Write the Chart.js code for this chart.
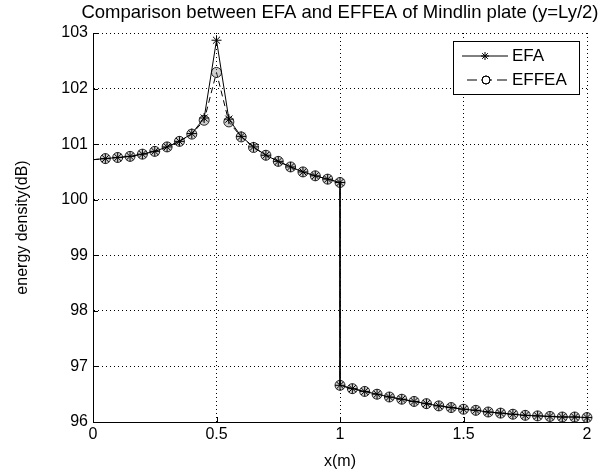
<!DOCTYPE html>
<html>
<head>
<meta charset="utf-8">
<script src="https://cdn.jsdelivr.net/npm/chart.js@4/dist/chart.umd.min.js"></script>
<style>
  html, body { margin: 0; padding: 0; background: #fff; }
  #wrap { width: 600px; height: 472px; }
</style>
</head>
<body>
<div id="wrap"><canvas id="chart" width="600" height="472"></canvas></div>
<script>
// x positions (m)
const xLeft = [0, 0.05, 0.1, 0.15, 0.2, 0.25, 0.3, 0.35, 0.4, 0.45, 0.5, 0.55, 0.6, 0.65, 0.7, 0.75, 0.8, 0.85, 0.9, 0.95, 1.0];
const xRight = [1.0, 1.05, 1.1, 1.15, 1.2, 1.25, 1.3, 1.35, 1.4, 1.45, 1.5, 1.55, 1.6, 1.65, 1.7, 1.75, 1.8, 1.85, 1.9, 1.95, 2.0];

// energy density (dB)
const efaLeft = [100.72, 100.74, 100.76, 100.78, 100.82, 100.87, 100.95, 101.05, 101.19, 101.47, 102.87, 101.45, 101.14, 100.95, 100.80, 100.69, 100.59, 100.50, 100.43, 100.37, 100.31];
const effeaLeft = [100.72, 100.74, 100.76, 100.78, 100.82, 100.87, 100.95, 101.05, 101.18, 101.43, 102.29, 101.40, 101.13, 100.94, 100.80, 100.69, 100.59, 100.50, 100.43, 100.37, 100.31];
const efaRight = [96.66, 96.60, 96.55, 96.50, 96.45, 96.41, 96.37, 96.33, 96.29, 96.26, 96.23, 96.21, 96.18, 96.16, 96.14, 96.12, 96.11, 96.10, 96.09, 96.09, 96.08];
const effeaRight = [96.66, 96.60, 96.55, 96.50, 96.45, 96.41, 96.37, 96.33, 96.29, 96.26, 96.23, 96.21, 96.18, 96.16, 96.14, 96.12, 96.11, 96.10, 96.09, 96.09, 96.08];

const seriesNames = ['EFA', 'EFFEA'];
const titleText = 'Comparison between EFA and EFFEA of Mindlin plate (y=Ly/2)';
const xTitle = 'x(m)';
const yTitle = 'energy density(dB)';

const FONT = '"Liberation Sans", Arial, Helvetica, sans-serif';

function toPoints(xs, ys) {
    return xs.map((x, i) => ({x: x, y: ys[i]}));
}

const efaData = toPoints(xLeft, efaLeft).concat(toPoints(xRight, efaRight));
const effeaData = toPoints(xLeft, effeaLeft).concat(toPoints(xRight, effeaRight));

// hide the marker on the first sample (x = 0)
const radiusFn = r => c => (c.parsed && c.parsed.x === 0 ? 0 : r);

const matlabBits = {
    id: 'matlabBits',
    afterDraw(chart) {
        const ctx = chart.ctx;
        const area = chart.chartArea;
        const xs = chart.scales.x, ys = chart.scales.y;
        ctx.save();
        // inward tick marks
        ctx.strokeStyle = '#000';
        ctx.lineWidth = 1;
        ctx.beginPath();
        ys.ticks.forEach(t => {
            const py = Math.round(ys.getPixelForValue(t.value)) + 0.5;
            ctx.moveTo(area.left, py);
            ctx.lineTo(area.left + 5, py);
        });
        xs.ticks.forEach(t => {
            const px = Math.round(xs.getPixelForValue(t.value)) + 0.5;
            ctx.moveTo(px, area.bottom);
            ctx.lineTo(px, area.bottom - 5);
        });
        ctx.stroke();

        // title
        ctx.fillStyle = '#000';
        ctx.font = '18.5px ' + FONT;
        ctx.textAlign = 'center';
        ctx.textBaseline = 'middle';
        ctx.fillText(titleText, (area.left + area.right) / 2, 13);

        // legend box
        const bx = 453, by = 41, bw = 126, bh = 53;
        ctx.fillStyle = '#fff';
        ctx.fillRect(bx, by, bw, bh);
        ctx.strokeStyle = '#000';
        ctx.strokeRect(bx + 0.5, by + 0.5, bw, bh);

        const rows = [by + 15, by + 39];
        // EFA entry
        ctx.beginPath();
        ctx.moveTo(bx + 9, rows[0]);
        ctx.lineTo(bx + 55, rows[0]);
        ctx.stroke();
        Chart.helpers.drawPoint(ctx, {pointStyle: 'star', radius: 4, borderWidth: 1}, bx + 32, rows[0]);
        // EFFEA entry
        ctx.setLineDash([10, 5]);
        ctx.beginPath();
        ctx.moveTo(bx + 14, rows[1]);
        ctx.lineTo(bx + 55, rows[1]);
        ctx.stroke();
        ctx.setLineDash([]);
        ctx.fillStyle = '#fff';
        Chart.helpers.drawPoint(ctx, {pointStyle: 'circle', radius: 4, borderWidth: 1}, bx + 33, rows[1]);
        ctx.stroke();

        ctx.fillStyle = '#000';
        ctx.font = '17px ' + FONT;
        ctx.textAlign = 'left';
        ctx.fillText(seriesNames[0], bx + 59, rows[0]);
        ctx.fillText(seriesNames[1], bx + 59, rows[1]);
        ctx.restore();
    }
};

new Chart(document.getElementById('chart'), {
    type: 'line',
    data: {
        datasets: [{
            label: seriesNames[0],
            data: efaData,
            borderColor: '#000',
            backgroundColor: 'rgba(0,0,0,0)',
            borderWidth: 1,
            pointStyle: 'star',
            pointRadius: radiusFn(5),
            pointBorderColor: '#000',
            pointBorderWidth: 1,
            tension: 0,
            clip: false,
        }, {
            label: seriesNames[1],
            data: effeaData,
            borderColor: '#000',
            backgroundColor: 'rgba(0,0,0,0)',
            borderWidth: 1,
            borderDash: [6, 4],
            pointStyle: 'circle',
            pointRadius: radiusFn(5),
            pointBorderColor: '#222',
            pointBackgroundColor: 'rgba(120,120,120,0.35)',
            pointBorderWidth: 1,
            tension: 0,
            clip: false,
        }]
    },
    options: {
        responsive: false,
        animation: false,
        layout: { padding: { top: 33, right: 13, bottom: 0, left: 0 } },
        plugins: {
            legend: { display: false },
            title: { display: false },
            tooltip: { enabled: false },
        },
        scales: {
            x: {
                type: 'linear',
                min: 0,
                max: 2,
                afterFit: s => { s.height = 50; },
                ticks: {
                    stepSize: 0.5, color: '#000', padding: 3, font: { family: FONT, size: 16 },
                    callback: v => String(Number(v)),
                },
                grid: { color: '#000', drawTicks: false, lineWidth: 1 },
                border: { display: true, color: '#000', width: 1, dash: [1, 3] },
                title: { display: true, text: xTitle, color: '#000', font: { family: FONT, size: 16 }, padding: { top: 0, bottom: 1 } },
            },
            y: {
                min: 96,
                max: 103,
                afterFit: s => { s.width = 93; },
                ticks: { stepSize: 1, color: '#000', padding: 5, font: { family: FONT, size: 16 } },
                grid: { color: '#000', drawTicks: false, lineWidth: 1 },
                border: { display: true, color: '#000', width: 1, dash: [1, 3] },
                title: { display: true, text: yTitle, color: '#000', font: { family: FONT, size: 16 }, padding: { top: 13, bottom: 0 } },
            }
        }
    },
    plugins: [matlabBits]
});
</script>
</body>
</html>
